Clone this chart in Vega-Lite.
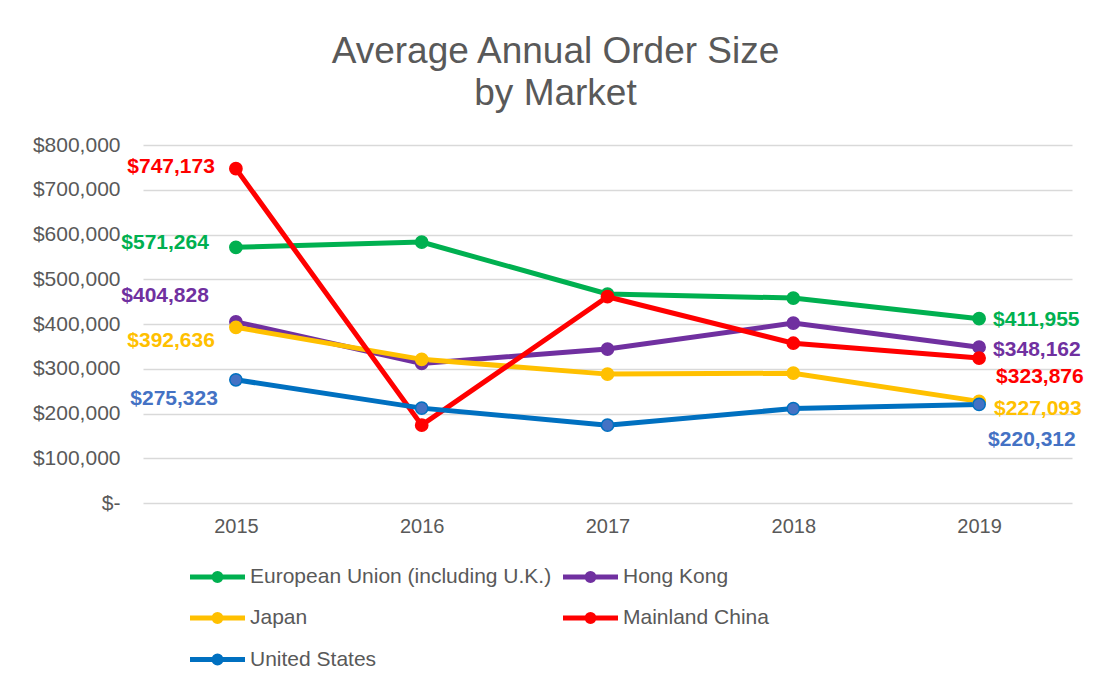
{
  "$schema": "https://vega.github.io/schema/vega-lite/v6.json",
  "width": 929,
  "height": 358,
  "autosize": {"type": "none"},
  "padding": {"left": 143, "top": 145, "right": 21, "bottom": 182},
  "background": "white",
  "config": {"font": "Liberation Sans", "view": {"stroke": null}},
  "title": {
    "text": ["Average Annual Order Size", "by Market"],
    "fontSize": 37,
    "fontWeight": "normal",
    "color": "#595959",
    "anchor": "middle",
    "dx": -52,
    "offset": 21,
    "lineHeight": 42
  },
  "data": {
    "values": [
      {"market": "European Union (including U.K.)", "year": "2015", "value": 571264},
      {"market": "European Union (including U.K.)", "year": "2016", "value": 583000},
      {"market": "European Union (including U.K.)", "year": "2017", "value": 467000},
      {"market": "European Union (including U.K.)", "year": "2018", "value": 458000},
      {"market": "European Union (including U.K.)", "year": "2019", "value": 411955},
      {"market": "Hong Kong", "year": "2015", "value": 404828},
      {"market": "Hong Kong", "year": "2016", "value": 312000},
      {"market": "Hong Kong", "year": "2017", "value": 344000},
      {"market": "Hong Kong", "year": "2018", "value": 402000},
      {"market": "Hong Kong", "year": "2019", "value": 348162},
      {"market": "Japan", "year": "2015", "value": 392636},
      {"market": "Japan", "year": "2016", "value": 321000},
      {"market": "Japan", "year": "2017", "value": 288000},
      {"market": "Japan", "year": "2018", "value": 290000},
      {"market": "Japan", "year": "2019", "value": 227093},
      {"market": "Mainland China", "year": "2015", "value": 747173},
      {"market": "Mainland China", "year": "2016", "value": 174000},
      {"market": "Mainland China", "year": "2017", "value": 461000},
      {"market": "Mainland China", "year": "2018", "value": 357000},
      {"market": "Mainland China", "year": "2019", "value": 323876},
      {"market": "United States", "year": "2015", "value": 275323},
      {"market": "United States", "year": "2016", "value": 212000},
      {"market": "United States", "year": "2017", "value": 174000},
      {"market": "United States", "year": "2018", "value": 211000},
      {"market": "United States", "year": "2019", "value": 220312}
    ]
  },
  "encoding": {
    "x": {
      "field": "year",
      "type": "ordinal",
      "scale": {"type": "point", "padding": 0.5},
      "axis": {"title": null, "labelAngle": 0, "ticks": false, "domain": false, "grid": false, "labelFontSize": 20, "labelColor": "#595959", "labelPadding": 13}
    },
    "y": {
      "field": "value",
      "type": "quantitative",
      "scale": {"domain": [0, 800000], "nice": false},
      "axis": {
        "title": null,
        "values": [0, 100000, 200000, 300000, 400000, 500000, 600000, 700000, 800000],
        "ticks": false,
        "domain": false,
        "gridColor": "#D9D9D9",
        "gridWidth": 1.5,
        "labelFontSize": 21,
        "labelColor": "#595959",
        "labelPadding": 23,
        "labelExpr": "datum.value == 0 ? '$-\u00a0\u00a0' : '$' + format(datum.value, ',')"
      }
    }
  },
  "layer": [
    {
      "mark": {"type": "line", "strokeWidth": 5},
      "encoding": {
        "color": {
          "field": "market",
          "type": "nominal",
          "scale": {
            "domain": ["European Union (including U.K.)", "Hong Kong", "Japan", "Mainland China", "United States"],
            "range": ["#00B050", "#7030A0", "#FFC000", "#FF0000", "#0070C0"]
          },
          "legend": {
            "orient": "none",
            "direction": "horizontal",
            "legendX": 61,
            "legendY": 418,
            "columns": 2,
            "title": null,
            "labelFontSize": 21,
            "labelColor": "#595959",
            "symbolType": "M-2.5,0H2.5M0.32,0A0.32,0.32,0,1,1,-0.32,0A0.32,0.32,0,1,1,0.32,0Z",
            "symbolSize": 484,
            "symbolStrokeWidth": 5,
            "labelOffset": 19,
            "rowPadding": 12.5,
            "columnPadding": 1,
            "labelLimit": 400,
            "encode": {
              "symbols": {
                "update": {
                  "fill": {"scale": "color", "field": "value"},
                  "stroke": {"scale": "color", "field": "value"},
                  "opacity": {"value": 1}
                }
              }
            }
          }
        }
      }
    },
    {
      "mark": {"type": "point", "filled": true, "size": 150, "opacity": 1, "strokeWidth": 1.5},
      "encoding": {
        "fill": {
          "field": "market",
          "type": "nominal",
          "scale": {
            "domain": ["European Union (including U.K.)", "Hong Kong", "Japan", "Mainland China", "United States"],
            "range": ["#00B050", "#7030A0", "#FFC000", "#FF0000", "#4472C4"]
          },
          "legend": null
        },
        "stroke": {
          "field": "market",
          "type": "nominal",
          "scale": {
            "domain": ["European Union (including U.K.)", "Hong Kong", "Japan", "Mainland China", "United States"],
            "range": ["#00B050", "#7030A0", "#FFC000", "#FF0000", "#0070C0"]
          },
          "legend": null
        }
      }
    },
    {
      "transform": [{"filter": "datum.year == '2015' && datum.market == 'European Union (including U.K.)'"}],
      "mark": {"type": "text", "align": "right", "dx": -27, "dy": -4, "fontSize": 21, "fontWeight": "bold"},
      "encoding": {"text": {"field": "value", "format": "$,.0f"}, "fill": {"field": "market", "type": "nominal", "legend": null}}
    },
    {
      "transform": [{"filter": "datum.year == '2015' && datum.market == 'Hong Kong'"}],
      "mark": {"type": "text", "align": "right", "dx": -27, "dy": -26, "fontSize": 21, "fontWeight": "bold"},
      "encoding": {"text": {"field": "value", "format": "$,.0f"}, "fill": {"field": "market", "type": "nominal", "legend": null}}
    },
    {
      "transform": [{"filter": "datum.year == '2015' && datum.market == 'Japan'"}],
      "mark": {"type": "text", "align": "right", "dx": -21, "dy": 14, "fontSize": 21, "fontWeight": "bold"},
      "encoding": {"text": {"field": "value", "format": "$,.0f"}, "fill": {"field": "market", "type": "nominal", "legend": null}}
    },
    {
      "transform": [{"filter": "datum.year == '2015' && datum.market == 'Mainland China'"}],
      "mark": {"type": "text", "align": "right", "dx": -21, "dy": -2, "fontSize": 21, "fontWeight": "bold"},
      "encoding": {"text": {"field": "value", "format": "$,.0f"}, "fill": {"field": "market", "type": "nominal", "legend": null}}
    },
    {
      "transform": [{"filter": "datum.year == '2015' && datum.market == 'United States'"}],
      "mark": {"type": "text", "align": "right", "dx": -18, "dy": 19, "fontSize": 21, "fontWeight": "bold"},
      "encoding": {"text": {"field": "value", "format": "$,.0f"}, "fill": {"field": "market", "type": "nominal", "legend": null}}
    },
    {
      "transform": [{"filter": "datum.year == '2019' && datum.market == 'European Union (including U.K.)'"}],
      "mark": {"type": "text", "align": "left", "dx": 14, "dy": 1, "fontSize": 21, "fontWeight": "bold"},
      "encoding": {"text": {"field": "value", "format": "$,.0f"}, "fill": {"field": "market", "type": "nominal", "legend": null}}
    },
    {
      "transform": [{"filter": "datum.year == '2019' && datum.market == 'Hong Kong'"}],
      "mark": {"type": "text", "align": "left", "dx": 14, "dy": 3, "fontSize": 21, "fontWeight": "bold"},
      "encoding": {"text": {"field": "value", "format": "$,.0f"}, "fill": {"field": "market", "type": "nominal", "legend": null}}
    },
    {
      "transform": [{"filter": "datum.year == '2019' && datum.market == 'Japan'"}],
      "mark": {"type": "text", "align": "left", "dx": 15, "dy": 8, "fontSize": 21, "fontWeight": "bold"},
      "encoding": {"text": {"field": "value", "format": "$,.0f"}, "fill": {"field": "market", "type": "nominal", "legend": null}}
    },
    {
      "transform": [{"filter": "datum.year == '2019' && datum.market == 'Mainland China'"}],
      "mark": {"type": "text", "align": "left", "dx": 17, "dy": 19, "fontSize": 21, "fontWeight": "bold"},
      "encoding": {"text": {"field": "value", "format": "$,.0f"}, "fill": {"field": "market", "type": "nominal", "legend": null}}
    },
    {
      "transform": [{"filter": "datum.year == '2019' && datum.market == 'United States'"}],
      "mark": {"type": "text", "align": "left", "dx": 9, "dy": 36, "fontSize": 21, "fontWeight": "bold"},
      "encoding": {"text": {"field": "value", "format": "$,.0f"}, "fill": {"field": "market", "type": "nominal", "legend": null}}
    }
  ]
}
